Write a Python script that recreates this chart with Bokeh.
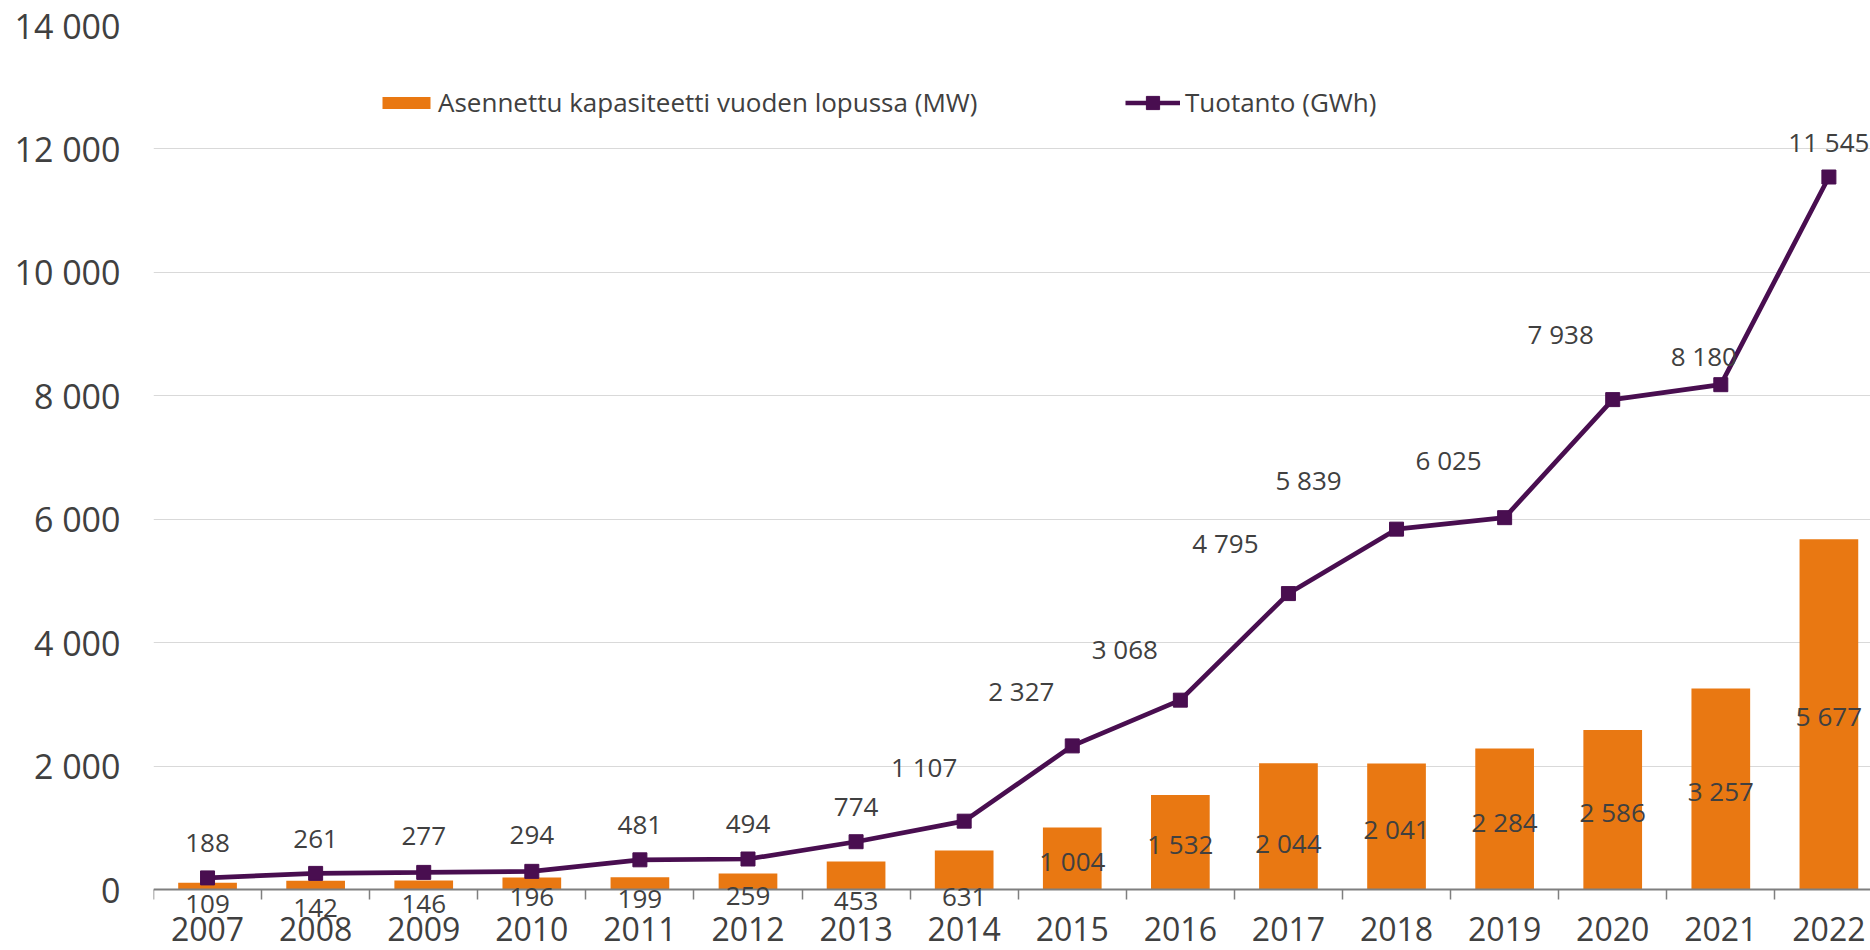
from bokeh.plotting import figure
from bokeh.models import (ColumnDataSource, Range1d, FixedTicker, Legend, LegendItem, LabelSet)
from bokeh.core.properties import value
from bokeh.embed import file_html
from bokeh.resources import INLINE

# ---------------- data ----------------
years = ["2007", "2008", "2009", "2010", "2011", "2012", "2013", "2014",
         "2015", "2016", "2017", "2018", "2019", "2020", "2021", "2022"]
capacity_mw = [109, 142, 146, 196, 199, 259, 453, 631,
               1004, 1532, 2044, 2041, 2284, 2586, 3257, 5677]
production_gwh = [188, 261, 277, 294, 481, 494, 774, 1107,
                  2327, 3068, 4795, 5839, 6025, 7938, 8180, 11545]
y_ticks = [0, 2000, 4000, 6000, 8000, 10000, 12000, 14000]
y_tick_labels = ["0", "2 000", "4 000", "6 000", "8 000", "10 000", "12 000", "14 000"]
series_names = ["Asennettu kapasiteetti vuoden lopussa (MW)", "Tuotanto (GWh)"]

# ---------------- label placement (screen px, style only) ----------------
bar_label_dy = [-21.7, -27.5, -23.3, -19.9, -21.3, -22, -39, -46,
                -33, -49.5, -80, -65, -73, -81.6, -103, -177]
line_label_dx = [0, 0, 0, 0, 0, 0, 0, -40, -51, -55.5, -63, -88, -56, -52, -17, 0]
line_label_dy = [35, 34.5, 36, 36, 35, 35.5, 35, 54, 55, 51, 51, 49, 58, 66, 29, 35]

ORANGE = "#E97812"
PURPLE = "#490E50"
TEXT = "#404040"
FONT = "Open Sans"

W, H = 1870, 950
LEFT, TOP = 153, 25          # frame position in px
FRAME_TO_ZERO = 864          # px from top gridline (14 000) to the 0 line
BELOW_ZERO = H - TOP - FRAME_TO_ZERO
Y_MAX = 14000
Y_MIN = -Y_MAX * BELOW_ZERO / FRAME_TO_ZERO
CAT_PX = 108.09
X_MAX = -0.5 + (W - LEFT) / CAT_PX


def fmt(v):
    return f"{v:,}".replace(",", " ")


x_idx = list(range(len(years)))
src = ColumnDataSource(dict(
    x=x_idx,
    cap=capacity_mw,
    prod=production_gwh,
    cap_txt=[fmt(v) for v in capacity_mw],
    prod_txt=[fmt(v) for v in production_gwh],
    bar_dy=bar_label_dy,
    line_dx=line_label_dx,
    line_dy=line_label_dy,
))

p = figure(width=W, height=H,
           x_range=Range1d(-0.5, X_MAX), y_range=Range1d(Y_MIN, Y_MAX),
           output_backend="svg", toolbar_location=None,
           min_border_left=LEFT, min_border_right=0,
           min_border_top=TOP, min_border_bottom=0)
p.outline_line_color = None

bars = p.vbar(x="x", top="cap", width=0.543, source=src,
              fill_color=ORANGE, line_color=None)
line = p.line(x="x", y="prod", source=src, line_color=PURPLE, line_width=4.7)
marks = p.scatter(x="x", y="prod", source=src, marker="square", size=14,
                  fill_color=PURPLE, line_color=PURPLE)

bar_labels = LabelSet(x="x", y="cap", text="cap_txt", source=src,
                      y_offset="bar_dy", text_align="center", text_baseline="middle",
                      text_font=value(FONT), text_font_size="26px", text_color=TEXT)
line_labels = LabelSet(x="x", y="prod", text="prod_txt", source=src,
                       x_offset="line_dx", y_offset="line_dy",
                       text_align="center", text_baseline="middle",
                       text_font=value(FONT), text_font_size="26px", text_color=TEXT)
p.add_layout(bar_labels)
p.add_layout(line_labels)

# x axis: sits on the zero line
xa = p.xaxis[0]
xa.fixed_location = 0
xa.ticker = FixedTicker(ticks=x_idx, minor_ticks=[i - 0.5 for i in range(len(years) + 1)])
xa.major_label_overrides = {i: y for i, y in enumerate(years)}
xa.major_tick_line_color = None
xa.major_tick_out = 0
xa.major_tick_in = 0
xa.minor_tick_in = 0
xa.minor_tick_out = 10
xa.minor_tick_line_color = "#7F7F7F"
xa.minor_tick_line_width = 1.5
xa.axis_line_color = "#7F7F7F"
xa.axis_line_width = 2
xa.major_label_text_font = FONT
xa.major_label_text_font_size = "32px"
xa.major_label_text_color = TEXT
xa.major_label_standoff = 17

ya = p.yaxis[0]
ya.ticker = FixedTicker(ticks=y_ticks)
ya.major_label_overrides = {t: l for t, l in zip(y_ticks, y_tick_labels)}
ya.axis_line_color = None
ya.major_tick_line_color = None
ya.major_tick_out = 0
ya.major_tick_in = 0
ya.minor_tick_line_color = None
ya.major_label_text_font = FONT
ya.major_label_text_font_size = "34px"
ya.major_label_text_color = TEXT
ya.major_label_standoff = 33

p.ygrid.ticker = FixedTicker(ticks=y_ticks)
p.ygrid.grid_line_color = "#D9D9D9"
p.ygrid.grid_line_width = 1.2
p.xgrid.grid_line_color = None

# legends
LEG_Y = H - TOP - 95
leg1 = Legend(items=[LegendItem(label=series_names[0], renderers=[bars])],
              location=(223, LEG_Y), orientation="horizontal",
              glyph_width=60, glyph_height=15, label_standoff=2,
              padding=0, margin=0, spacing=0,
              border_line_color=None, background_fill_alpha=0,
              label_text_font=FONT, label_text_font_size="26px",
              label_text_color=TEXT)
leg2 = Legend(items=[LegendItem(label=series_names[1], renderers=[line, marks])],
              location=(972, LEG_Y), orientation="horizontal",
              glyph_width=55, glyph_height=33, label_standoff=5,
              padding=0, margin=0, spacing=0,
              border_line_color=None, background_fill_alpha=0,
              label_text_font=FONT, label_text_font_size="26px",
              label_text_color=TEXT)
p.add_layout(leg1)
p.add_layout(leg2)

open("out.html", "w").write(file_html(p, INLINE))
